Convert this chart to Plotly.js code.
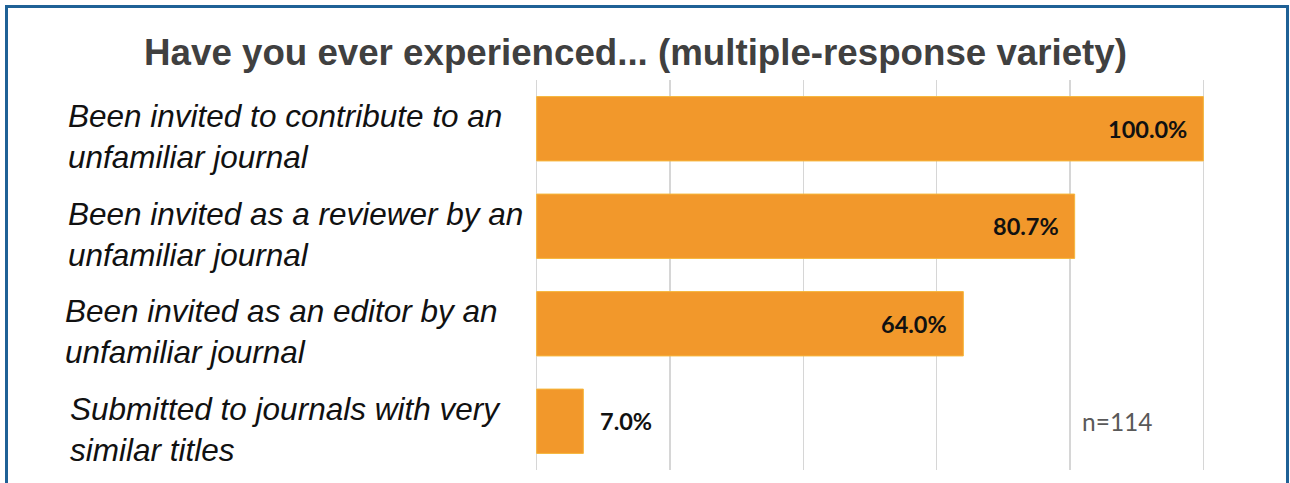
<!DOCTYPE html>
<html>
<head>
<meta charset="utf-8">
<script src="https://cdn.plot.ly/plotly-3.0.1.min.js"></script>
<style>html,body{margin:0;padding:0;background:#fff;}#chart{width:1290px;height:483px;}</style>
</head>
<body>
<div id="chart"></div>
<script>
const categories = [
  "Been invited to contribute to an<br>unfamiliar journal",
  "Been invited as a reviewer by an<br>unfamiliar journal",
  "Been invited as an editor by an<br>unfamiliar journal",
  "Submitted to journals with very<br>similar titles"
];
const values = [100.0, 80.7, 64.0, 7.0];
const xTicks = [0, 20, 40, 60, 80, 100];
const titleText = "Have you ever experienced... (multiple-response variety)";
const noteText = "n=114";

const labelXShift = [-2, -2, -5, 0];

const trace = {
  type: 'bar',
  orientation: 'h',
  y: categories,
  x: values,
  marker: {color: '#f2982b', line: {color: '#f6b73c', width: 1}},
  width: 0.66,
  hoverinfo: 'skip',
  showlegend: false
};

const plotL = 530, plotR = 80, plotT = 80, plotB = 13, W = 1290, H = 483;
const pw = W - plotL - plotR, ph = H - plotT - plotB;
const px = v => (v - plotL) / pw;
const py = v => (H - plotB - v) / ph;

const annotations = [];
categories.forEach((c, i) => {
  annotations.push({
    xref: 'paper', yref: 'y', x: px(68), y: c, xanchor: 'left', yanchor: 'middle',
    align: 'left', text: '<i>' + c + '</i>', showarrow: false, yshift: -8, xshift: labelXShift[i],
    font: {family: 'Liberation Sans, Arial, sans-serif', size: 31.5, color: '#111111'}
  });
  const v = values[i];
  const inside = v > 20;
  annotations.push({
    xref: 'x', yref: 'y', x: v, y: c,
    xanchor: inside ? 'right' : 'left', yanchor: 'middle',
    xshift: inside ? -14 : 15,
    text: '<b>' + v.toFixed(1) + '%</b>', showarrow: false,
    font: {family: 'Lato, sans-serif', size: 23.5, color: '#111111'}
  });
});
annotations.push({
  xref: 'x', yref: 'y', x: 81.5, y: categories[3], xanchor: 'left', yanchor: 'middle',
  text: noteText, showarrow: false, yshift: 0,
  font: {family: 'Lato, sans-serif', size: 24.5, color: '#595959'}
});

const layout = {
  width: W, height: H,
  margin: {l: plotL, r: plotR, t: plotT, b: plotB, pad: 0},
  paper_bgcolor: '#ffffff', plot_bgcolor: '#ffffff',
  title: {
    text: '<b>' + titleText + '</b>',
    x: 635.5 / W, xanchor: 'center', xref: 'container', y: 1 - 52 / H, yanchor: 'middle',
    font: {family: 'Liberation Sans, Arial, sans-serif', size: 36.7, color: '#404040'}
  },
  xaxis: {
    range: [-1, 101], tickvals: xTicks, showticklabels: false,
    showgrid: true, gridcolor: '#d6d6d6', gridwidth: 1.5,
    zeroline: false, showline: false, fixedrange: true
  },
  yaxis: {
    type: 'category', autorange: 'reversed', showticklabels: false,
    showgrid: false, zeroline: false, showline: false, range: [3.5, -0.5]
  },
  bargap: 0.34,
  annotations: annotations,
  shapes: [{
    type: 'path', xref: 'paper', yref: 'paper',
    path: 'M ' + px(6.5) + ' ' + py(500) + ' L ' + px(6.5) + ' ' + py(6.5) +
          ' L ' + px(1287.5) + ' ' + py(6.5) + ' L ' + px(1287.5) + ' ' + py(500),
    line: {color: '#1f6196', width: 3}
  }]
};

Plotly.newPlot('chart', [trace], layout, {displayModeBar: false, staticPlot: true});
</script>
</body>
</html>
